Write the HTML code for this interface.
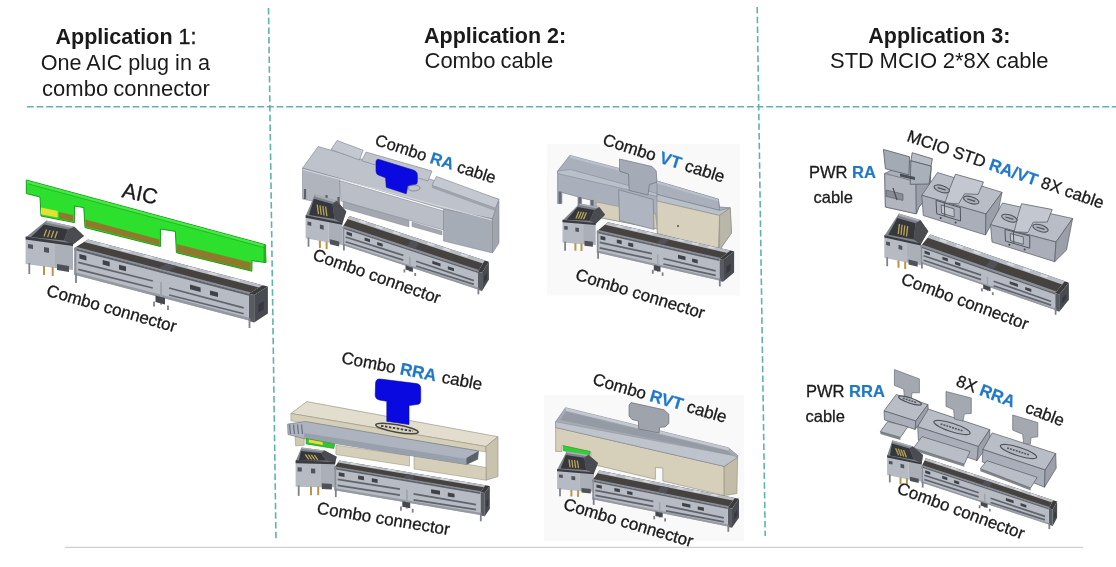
<!DOCTYPE html>
<html><head><meta charset="utf-8"><style>
html,body{margin:0;padding:0;background:#fff;}
body{width:1116px;height:567px;overflow:hidden;position:relative;}
svg{position:absolute;left:0;top:0;filter:blur(0.4px);}
text{font-family:"Liberation Sans",sans-serif;}
</style></head><body>
<svg width="1116" height="567" viewBox="0 0 1116 567">
<line x1="268.5" y1="8.0" x2="276.0" y2="541.0" stroke="#5fb3aa" stroke-width="1.6" stroke-dasharray="6.5 3.2"/>
<line x1="757.2" y1="7.0" x2="765.2" y2="536.0" stroke="#5fb3aa" stroke-width="1.6" stroke-dasharray="6.5 3.2"/>
<line x1="27.0" y1="106.7" x2="1116.0" y2="106.7" stroke="#5fb3aa" stroke-width="1.6" stroke-dasharray="6.8 2.8"/>
<line x1="65.0" y1="547.3" x2="1083.0" y2="547.3" stroke="#cfcfcf" stroke-width="1.3" />
<text x="126" y="43.6" font-size="21.5" font-weight="normal" text-anchor="middle" fill="#1a1a1a" ><tspan font-weight="bold">Application </tspan><tspan stroke="#1a1a1a" stroke-width="0.35">1:</tspan></text>
<text x="125.3" y="69.5" font-size="21.6" font-weight="normal" text-anchor="middle" fill="#1a1a1a" >One AIC plug in a</text>
<text x="126" y="95.6" font-size="22" font-weight="normal" text-anchor="middle" fill="#1a1a1a" word-spacing="-1">combo connector</text>
<text x="424" y="42.5" font-size="21.5" font-weight="bold" text-anchor="start" fill="#1a1a1a" >Application 2:</text>
<text x="424.5" y="67.5" font-size="22" font-weight="normal" text-anchor="start" fill="#1a1a1a" word-spacing="-1">Combo cable</text>
<text x="939.3" y="43" font-size="21.5" font-weight="bold" text-anchor="middle" fill="#1a1a1a" >Application 3:</text>
<text x="939.3" y="67.7" font-size="22" font-weight="normal" text-anchor="middle" fill="#1a1a1a" word-spacing="-0.5">STD MCIO 2*8X cable</text>
<g><polygon points="25.6,237.5 46.5,220.6 74.3,226.8 84.0,236.0 73.0,244.5" fill="#7e838b" />
<polygon points="31.0,237.0 44.0,224.5 68.0,229.5 64.0,240.5" fill="#36373c" />
<polygon points="46.5,220.6 74.3,226.8 74.3,228.6 46.5,222.4" fill="#a9aeb6" />
<polygon points="64.0,240.5 68.0,229.5 74.3,226.8 84.0,236.0 73.0,244.5" fill="#4a4c52" />
<line x1="44.0" y1="236.5" x2="46.5" y2="229.5" stroke="#b9a655" stroke-width="1.3" />
<line x1="47.6" y1="237.1" x2="50.1" y2="230.1" stroke="#b9a655" stroke-width="1.3" />
<line x1="51.2" y1="237.7" x2="53.7" y2="230.7" stroke="#b9a655" stroke-width="1.3" />
<line x1="54.8" y1="238.3" x2="57.3" y2="231.3" stroke="#b9a655" stroke-width="1.3" />
<polygon points="25.6,238.0 55.0,242.0 55.0,268.0 25.6,264.0" fill="#b5bac3" />
<polygon points="55.0,242.0 73.0,244.5 73.0,270.0 55.0,268.0" fill="#aaafb8" />
<polygon points="25.6,236.5 73.0,243.5 73.0,246.0 25.6,239.5" fill="#3a3c41" />
<polygon points="57.0,264.0 69.0,266.0 69.0,272.0 57.0,270.0" fill="#4e5157" />
<polygon points="44.0,247.0 49.0,248.0 49.0,253.0 44.0,252.0" fill="#50535a" />
<polygon points="28.0,244.0 33.0,244.7 33.0,249.0 28.0,248.3" fill="#50535a" />
<line x1="29.3" y1="263.0" x2="29.3" y2="274.0" stroke="#7d828a" stroke-width="1.8" />
<line x1="44.0" y1="266.0" x2="44.0" y2="275.0" stroke="#b8954a" stroke-width="2.0" />
<line x1="52.7" y1="267.0" x2="52.7" y2="276.0" stroke="#b8954a" stroke-width="2.0" />
<polygon points="74.3,248.0 249.0,293.7 262.7,285.2 88.0,239.5" fill="#45423f" />
<polygon points="84.2,241.9 258.9,287.6 262.7,285.2 88.0,239.5" fill="#b9bdc5" />
<polygon points="74.3,248.0 249.0,293.7 250.9,292.5 76.2,246.8" fill="#8c9099" />
<polygon points="99.2,244.9 108.0,247.1 110.0,245.9 101.3,243.6" fill="#d8dbe0" />
<polygon points="120.2,250.3 128.9,252.6 131.0,251.4 122.3,249.1" fill="#d8dbe0" />
<polygon points="142.9,256.3 151.6,258.6 153.7,257.3 145.0,255.0" fill="#d8dbe0" />
<polygon points="186.6,267.7 195.3,270.0 197.4,268.7 188.6,266.4" fill="#d8dbe0" />
<polygon points="207.5,273.2 216.3,275.5 218.3,274.2 209.6,271.9" fill="#d8dbe0" />
<polygon points="230.3,279.1 239.0,281.4 241.1,280.1 232.3,277.9" fill="#d8dbe0" />
<polygon points="158.3,268.3 168.8,271.0 176.8,266.1 166.3,263.4" fill="#505156" />
<polygon points="249.0,293.7 254.2,295.1 267.9,286.6 262.7,285.2" fill="#3b3a3c" />
<polygon points="249.0,293.7 254.2,295.1 254.2,322.4 249.0,321.0" fill="#585b62" />
<polygon points="254.2,295.1 267.9,286.6 267.9,313.4 254.2,322.4" fill="#474a50" />
<polygon points="258.4,304.6 263.8,301.2 263.8,309.2 258.4,312.6" fill="#36383d" />
<polygon points="74.3,248.0 249.0,293.7 249.0,320.5 74.3,274.8" fill="#b6bbc4" />
<polygon points="74.3,248.0 249.0,293.7 249.0,295.8 74.3,250.1" fill="#5f636b" />
<polygon points="74.3,248.0 76.4,248.5 76.4,275.3 74.3,274.8" fill="#8b9098" />
<polygon points="74.3,272.1 249.0,317.8 249.0,320.5 74.3,274.8" fill="#9499a2" />
<line x1="78.2" y1="262.4" x2="152.8" y2="281.0" stroke="#60656d" stroke-width="1.7" />
<line x1="78.2" y1="269.4" x2="152.8" y2="288.0" stroke="#60656d" stroke-width="1.7" />
<line x1="169.1" y1="288.0" x2="243.7" y2="307.9" stroke="#60656d" stroke-width="1.7" />
<line x1="169.1" y1="295.0" x2="243.7" y2="313.7" stroke="#60656d" stroke-width="1.7" />
<polygon points="79.4,254.0 86.4,255.8 86.4,260.4 79.4,258.6" fill="#3f4248" />
<polygon points="102.7,260.0 109.7,261.8 109.7,266.4 102.7,264.6" fill="#3f4248" />
<polygon points="119.0,264.8 126.0,266.6 126.0,271.2 119.0,269.4" fill="#3f4248" />
<polygon points="190.0,284.6 200.6,287.4 200.6,292.0 190.0,289.2" fill="#3f4248" />
<polygon points="210.0,290.4 218.0,292.5 218.0,297.1 210.0,295.0" fill="#3f4248" />
<polygon points="160.0,282.0 162.0,282.5 162.0,305.0 160.0,304.5" fill="#9ea3ac" />
<polygon points="155.5,295.5 165.0,298.0 165.0,304.5 155.5,302.0" fill="#45484e" />
<line x1="76.0" y1="273.5" x2="76.0" y2="283.0" stroke="#7d828a" stroke-width="1.8" />
<line x1="154.0" y1="301.5" x2="154.0" y2="306.5" stroke="#7d828a" stroke-width="1.8" />
<line x1="168.0" y1="305.5" x2="168.0" y2="310.0" stroke="#7d828a" stroke-width="1.8" />
<line x1="249.5" y1="318.0" x2="249.5" y2="328.0" stroke="#7d828a" stroke-width="1.8" /></g>
<rect x="547" y="144" width="193" height="151.5" fill="#f9f9fa"/>
<rect x="544" y="395" width="200" height="146" fill="#f9f9fa"/>
<polygon points="26.3,180.0 265.4,244.7 266.0,262.6 252.0,260.7 251.9,271.2 176.4,252.7 175.4,231.4 160.4,229.0 160.4,246.5 85.0,227.6 83.8,207.6 74.4,206.0 74.4,222.6 41.0,216.0 40.0,197.0 26.3,193.5" fill="#2ee02e" stroke="#169c16" stroke-width="1.0" stroke-linejoin="round" />
<polygon points="26.8,180.5 265.0,245.0 265.0,247.5 27.0,183.5" fill="#46ea46" />
<line x1="28.0" y1="183.8" x2="264.0" y2="247.6" stroke="#20b520" stroke-width="0.9" />
<polygon points="263.5,245.0 266.0,245.0 266.0,262.3 263.5,262.0" fill="#20b020" />
<polygon points="41.0,207.5 57.6,211.0 57.6,217.5 41.0,214.2" fill="#e6e032" />
<polygon points="59.0,212.0 73.0,215.0 73.0,221.5 59.0,218.5" fill="#8f7a2c" />
<polygon points="85.5,219.5 159.5,239.6 159.5,245.5 85.5,226.5" fill="#8f7a2c" />
<polygon points="176.8,244.0 250.8,262.6 250.6,270.2 176.8,252.0" fill="#8f7a2c" />
<polygon points="302.5,168.2 318.2,146.5 499.0,199.4 496.0,207.0 492.5,218.8 443.5,209.0 339.5,178.5" fill="#bec3cb" stroke="#7a7f88" stroke-width="0.6" stroke-linejoin="round" />
<polygon points="331.0,149.5 337.0,140.5 363.2,150.2 359.4,160.0" fill="#c4c8d0" stroke="#7a7f88" stroke-width="0.6" stroke-linejoin="round" />
<polygon points="361.6,160.7 366.0,152.0 432.0,171.0 428.0,181.0" fill="#c0c4cc" stroke="#7a7f88" stroke-width="0.6" stroke-linejoin="round" />
<polygon points="432.0,185.3 436.4,176.4 499.0,199.4 495.5,208.2" fill="#c4c8d0" stroke="#7a7f88" stroke-width="0.6" stroke-linejoin="round" />
<polygon points="432.0,185.3 495.5,208.2 495.5,211.0 432.0,188.0" fill="#9ea3ac" />
<polygon points="302.5,168.2 339.5,178.5 340.0,207.0 302.5,199.0" fill="#afb4bd" stroke="#7a7f88" stroke-width="0.5" stroke-linejoin="round" />
<polygon points="339.5,180.5 443.5,211.0 443.5,230.0 341.0,201.0" fill="#b9bec7" stroke="#7a7f88" stroke-width="0.5" stroke-linejoin="round" />
<polygon points="443.5,209.0 492.5,218.8 492.5,253.0 443.5,241.0" fill="#a6acb5" stroke="#7a7f88" stroke-width="0.5" stroke-linejoin="round" />
<polygon points="492.5,218.8 499.0,201.0 499.0,243.0 492.5,253.0" fill="#a0a5ae" stroke="#7a7f88" stroke-width="0.5" stroke-linejoin="round" />
<polygon points="343.0,201.5 409.0,220.5 409.0,227.0 343.0,208.0" fill="#a2a7b0" stroke="#7a7f88" stroke-width="0.4" stroke-linejoin="round" />
<polygon points="412.0,222.0 442.0,231.0 442.0,235.0 412.0,226.5" fill="#a2a7b0" stroke="#7a7f88" stroke-width="0.4" stroke-linejoin="round" />
<line x1="303.0" y1="169.5" x2="492.0" y2="220.0" stroke="#d6d9df" stroke-width="1.0" />
<path d="M379,159.5 L413,170 Q417.3,171.3 417.3,175 L417.3,182 Q417.3,184.1 415,184.5 L407.8,185.7 L406.2,193.7 L386.3,187.3 L385.6,177.8 L378.5,175 Q376,174 376,171 L376,162 Q376.2,158.6 379,159.5 Z" fill="#0a0ae0" stroke="#0808a8" stroke-width="0.6"/>
<ellipse cx="414" cy="188" rx="6" ry="3" fill="none" stroke="#7a7f88" stroke-width="0.8"/>
<line x1="305.0" y1="189.0" x2="305.0" y2="199.0" stroke="#5d6169" stroke-width="2.2" />
<line x1="326.5" y1="195.0" x2="326.5" y2="206.0" stroke="#5d6169" stroke-width="2.2" />
<line x1="338.5" y1="197.0" x2="338.5" y2="208.0" stroke="#5d6169" stroke-width="2.2" />
<g><polygon points="305.6,216.0 314.9,194.5 336.5,200.7 346.3,211.4 342.3,223.5" fill="#7e838b" />
<polygon points="309.0,214.9 313.9,198.8 332.5,203.9 334.6,219.0" fill="#36373c" />
<polygon points="314.9,194.5 336.5,200.7 337.0,202.9 315.5,196.7" fill="#a9aeb6" />
<polygon points="334.6,219.0 332.5,203.9 336.5,200.7 346.3,211.4 342.3,223.5" fill="#4a4c52" />
<line x1="318.5" y1="214.2" x2="317.2" y2="204.7" stroke="#b9a655" stroke-width="1.3" />
<line x1="321.3" y1="214.9" x2="320.0" y2="205.3" stroke="#b9a655" stroke-width="1.3" />
<line x1="324.1" y1="215.5" x2="322.8" y2="205.9" stroke="#b9a655" stroke-width="1.3" />
<line x1="326.9" y1="216.1" x2="325.6" y2="206.6" stroke="#b9a655" stroke-width="1.3" />
<polygon points="305.6,216.4 328.4,220.8 328.4,242.6 305.6,238.2" fill="#b5bac3" />
<polygon points="328.4,220.8 342.3,223.5 342.3,244.9 328.4,242.6" fill="#aaafb8" />
<polygon points="305.6,215.2 342.3,222.7 342.3,224.8 305.6,217.7" fill="#3a3c41" />
<polygon points="329.9,239.3 339.2,241.4 339.2,246.4 329.9,244.3" fill="#4e5157" />
<polygon points="319.9,224.6 323.7,225.6 323.7,229.8 319.9,228.8" fill="#50535a" />
<polygon points="307.5,221.5 311.3,222.3 311.3,225.9 307.5,225.1" fill="#50535a" />
<line x1="308.5" y1="237.5" x2="308.5" y2="246.7" stroke="#7d828a" stroke-width="1.8" />
<line x1="319.9" y1="240.5" x2="319.9" y2="248.1" stroke="#b8954a" stroke-width="2.0" />
<line x1="326.6" y1="241.7" x2="326.6" y2="249.2" stroke="#b8954a" stroke-width="2.0" />
<polygon points="342.6,227.1 478.0,271.5 484.8,260.4 349.4,216.0" fill="#45423f" />
<polygon points="347.5,219.1 482.9,263.5 484.8,260.4 349.4,216.0" fill="#b9bdc5" />
<polygon points="342.6,227.1 478.0,271.5 479.0,269.9 343.6,225.5" fill="#8c9099" />
<polygon points="358.9,221.8 365.6,224.0 366.7,222.3 359.9,220.1" fill="#d8dbe0" />
<polygon points="375.1,227.1 381.9,229.3 382.9,227.7 376.1,225.4" fill="#d8dbe0" />
<polygon points="392.7,232.9 399.5,235.1 400.5,233.4 393.7,231.2" fill="#d8dbe0" />
<polygon points="426.6,244.0 433.3,246.2 434.4,244.5 427.6,242.3" fill="#d8dbe0" />
<polygon points="442.8,249.3 449.6,251.5 450.6,249.9 443.8,247.6" fill="#d8dbe0" />
<polygon points="460.4,255.1 467.2,257.3 468.2,255.6 461.4,253.4" fill="#d8dbe0" />
<polygon points="407.2,246.4 415.3,249.1 419.3,242.6 411.1,240.0" fill="#505156" />
<polygon points="478.0,271.5 482.1,272.8 488.9,261.7 484.8,260.4" fill="#3b3a3c" />
<polygon points="478.0,271.5 482.1,272.8 482.1,291.1 478.0,289.8" fill="#585b62" />
<polygon points="482.1,272.8 488.9,261.7 488.9,279.6 482.1,291.1" fill="#474a50" />
<polygon points="484.1,277.6 486.8,273.1 486.8,278.5 484.1,282.9" fill="#36383d" />
<polygon points="342.6,227.1 478.0,271.5 478.0,289.4 342.6,245.0" fill="#b6bbc4" />
<polygon points="342.6,227.1 478.0,271.5 478.0,272.9 342.6,228.5" fill="#5f636b" />
<polygon points="342.6,227.1 344.2,227.6 344.2,245.5 342.6,245.0" fill="#8b9098" />
<polygon points="342.6,243.2 478.0,287.6 478.0,289.4 342.6,245.0" fill="#9499a2" />
<line x1="345.6" y1="237.0" x2="403.4" y2="255.4" stroke="#60656d" stroke-width="1.7" />
<line x1="345.6" y1="241.7" x2="403.4" y2="260.1" stroke="#60656d" stroke-width="1.7" />
<line x1="416.1" y1="261.3" x2="473.9" y2="280.6" stroke="#60656d" stroke-width="1.7" />
<line x1="416.1" y1="266.0" x2="473.9" y2="284.4" stroke="#60656d" stroke-width="1.7" />
<polygon points="346.6,231.5 352.0,233.3 352.0,236.4 346.6,234.6" fill="#3f4248" />
<polygon points="364.6,237.4 370.0,239.2 370.0,242.2 364.6,240.4" fill="#3f4248" />
<polygon points="377.2,241.9 382.7,243.7 382.7,246.7 377.2,244.9" fill="#3f4248" />
<polygon points="432.3,260.7 440.5,263.4 440.5,266.5 432.3,263.8" fill="#3f4248" />
<polygon points="447.8,266.2 454.0,268.2 454.0,271.3 447.8,269.3" fill="#3f4248" />
<polygon points="409.0,256.6 410.6,257.1 410.6,272.1 409.0,271.6" fill="#9ea3ac" />
<polygon points="405.5,265.3 412.9,267.7 412.9,272.0 405.5,269.6" fill="#45484e" />
<line x1="343.9" y1="244.3" x2="343.9" y2="250.6" stroke="#7d828a" stroke-width="1.8" />
<line x1="404.4" y1="269.2" x2="404.4" y2="272.5" stroke="#7d828a" stroke-width="1.8" />
<line x1="415.2" y1="272.9" x2="415.2" y2="276.0" stroke="#7d828a" stroke-width="1.8" />
<line x1="478.4" y1="287.8" x2="478.4" y2="294.4" stroke="#7d828a" stroke-width="1.8" /></g>
<polygon points="557.6,171.0 569.9,155.4 619.5,168.5 619.5,171.0 628.5,174.0 647.0,183.5 657.0,181.1 718.3,199.2 719.6,207.0 730.2,207.8 731.5,232.9 719.6,250.0 657.4,233.4 657.2,228.7 596.9,217.0 594.0,212.2 590.3,211.0 590.3,199.9 581.6,198.0 581.6,209.5 578.0,208.8 578.0,196.8 561.9,192.5 561.9,203.6 557.6,203.6" fill="#a9b0bc" stroke="#6f7682" stroke-width="0.6" stroke-linejoin="round" />
<polygon points="569.9,155.4 619.5,168.5 619.5,171.0 570.3,158.0" fill="#bac0ca" />
<polygon points="557.6,171.0 570.5,169.5 619.5,183.0 657.0,193.5 657.0,196.5 557.6,173.5" fill="#bac0ca" stroke="#6f7682" stroke-width="0.4" stroke-linejoin="round" />
<polygon points="596.0,202.0 655.5,213.7 657.2,228.7 596.9,217.0" fill="#d5cfbb" stroke="#8d8a7c" stroke-width="0.5" stroke-linejoin="round" />
<polygon points="618.7,189.7 653.2,199.4 654.0,229.5 619.5,220.5" fill="#aeb5c1" stroke="#6f7682" stroke-width="0.6" stroke-linejoin="round" />
<polygon points="619.5,159.0 652.0,166.5 656.2,171.0 657.0,182.2 649.4,184.5 648.0,195.0 629.2,190.4 628.5,174.0 619.5,171.0" fill="#a4abb7" stroke="#6f7682" stroke-width="0.7" stroke-linejoin="round" />
<polygon points="657.0,181.1 718.3,199.2 719.6,210.4 657.0,194.5" fill="#a9b0bc" stroke="#6f7682" stroke-width="0.5" stroke-linejoin="round" />
<polygon points="657.0,181.1 718.3,199.2 718.5,201.5 657.0,183.5" fill="#bac0ca" />
<polygon points="657.0,194.5 719.6,210.4 730.2,207.8 719.6,215.5 657.0,201.0" fill="#bac0ca" stroke="#6f7682" stroke-width="0.5" stroke-linejoin="round" />
<polygon points="657.0,201.0 719.6,215.5 718.3,250.0 657.4,233.4" fill="#d6d0bc" stroke="#8d8a7c" stroke-width="0.5" stroke-linejoin="round" />
<polygon points="719.6,215.5 730.2,207.8 731.5,232.9 719.6,250.0" fill="#b9b6aa" stroke="#8d8a7c" stroke-width="0.5" stroke-linejoin="round" />
<circle cx="678" cy="226" r="1" fill="#555"/>
<line x1="579.8" y1="197.0" x2="579.8" y2="209.5" stroke="#636a75" stroke-width="2.8" />
<line x1="592.2" y1="199.9" x2="592.2" y2="212.2" stroke="#636a75" stroke-width="2.8" />
<line x1="560.0" y1="191.5" x2="560.0" y2="203.6" stroke="#636a75" stroke-width="2.8" />
<g><polygon points="562.5,220.6 579.7,203.5 599.2,207.0 605.1,214.8 595.7,223.7" fill="#7e838b" />
<polygon points="566.6,219.7 577.6,207.1 594.4,209.9 589.7,220.7" fill="#36373c" />
<polygon points="579.7,203.5 599.2,207.0 598.9,208.7 579.5,205.1" fill="#a9aeb6" />
<polygon points="589.7,220.7 594.4,209.9 599.2,207.0 605.1,214.8 595.7,223.7" fill="#4a4c52" />
<line x1="575.9" y1="218.4" x2="578.8" y2="211.5" stroke="#b9a655" stroke-width="1.3" />
<line x1="578.4" y1="218.7" x2="581.4" y2="211.8" stroke="#b9a655" stroke-width="1.3" />
<line x1="580.9" y1="218.9" x2="583.9" y2="212.1" stroke="#b9a655" stroke-width="1.3" />
<line x1="583.5" y1="219.2" x2="586.4" y2="212.4" stroke="#b9a655" stroke-width="1.3" />
<polygon points="562.5,221.0 583.1,222.7 583.1,244.3 562.5,242.6" fill="#b5bac3" />
<polygon points="583.1,222.7 595.7,223.7 595.7,244.9 583.1,244.3" fill="#aaafb8" />
<polygon points="562.5,219.8 595.7,222.9 595.7,225.0 562.5,222.3" fill="#3a3c41" />
<polygon points="584.5,240.8 592.9,241.8 592.9,246.8 584.5,245.8" fill="#4e5157" />
<polygon points="575.4,227.5 578.9,228.0 578.9,232.1 575.4,231.6" fill="#50535a" />
<polygon points="564.2,225.9 567.7,226.2 567.7,229.7 564.2,229.4" fill="#50535a" />
<line x1="565.1" y1="241.6" x2="565.1" y2="250.7" stroke="#7d828a" stroke-width="1.8" />
<line x1="575.4" y1="243.2" x2="575.4" y2="250.7" stroke="#b8954a" stroke-width="2.0" />
<line x1="581.5" y1="243.6" x2="581.5" y2="251.0" stroke="#b8954a" stroke-width="2.0" />
<polygon points="596.9,231.2 719.4,259.3 730.4,250.4 607.9,222.3" fill="#45423f" />
<polygon points="604.8,224.8 727.3,252.9 730.4,250.4 607.9,222.3" fill="#b9bdc5" />
<polygon points="596.9,231.2 719.4,259.3 720.9,258.1 598.4,230.0" fill="#8c9099" />
<polygon points="615.5,226.3 621.6,227.7 623.3,226.4 617.1,225.0" fill="#d8dbe0" />
<polygon points="630.2,229.7 636.3,231.1 638.0,229.8 631.9,228.4" fill="#d8dbe0" />
<polygon points="646.1,233.4 652.2,234.8 653.9,233.4 647.8,232.0" fill="#d8dbe0" />
<polygon points="676.7,240.4 682.9,241.8 684.5,240.4 678.4,239.0" fill="#d8dbe0" />
<polygon points="691.4,243.8 697.6,245.2 699.2,243.8 693.1,242.4" fill="#d8dbe0" />
<polygon points="707.4,247.4 713.5,248.8 715.1,247.5 709.0,246.1" fill="#d8dbe0" />
<polygon points="656.0,243.2 663.4,244.8 669.7,239.7 662.4,238.0" fill="#505156" />
<polygon points="719.4,259.3 723.1,260.1 734.1,251.2 730.4,250.4" fill="#3b3a3c" />
<polygon points="719.4,259.3 723.1,260.1 723.1,281.8 719.4,280.9" fill="#585b62" />
<polygon points="723.1,260.1 734.1,251.2 734.1,272.4 723.1,281.8" fill="#474a50" />
<polygon points="726.4,267.0 730.8,263.5 730.8,269.8 726.4,273.4" fill="#36383d" />
<polygon points="596.9,231.2 719.4,259.3 719.4,280.5 596.9,252.4" fill="#b6bbc4" />
<polygon points="596.9,231.2 719.4,259.3 719.4,261.0 596.9,232.9" fill="#5f636b" />
<polygon points="596.9,231.2 598.4,231.5 598.4,252.7 596.9,252.4" fill="#8b9098" />
<polygon points="596.9,250.3 719.4,278.4 719.4,280.5 596.9,252.4" fill="#9499a2" />
<line x1="599.6" y1="242.4" x2="651.9" y2="253.7" stroke="#60656d" stroke-width="1.7" />
<line x1="599.6" y1="247.9" x2="651.9" y2="259.2" stroke="#60656d" stroke-width="1.7" />
<line x1="663.4" y1="258.5" x2="715.7" y2="270.8" stroke="#60656d" stroke-width="1.7" />
<line x1="663.4" y1="264.0" x2="715.7" y2="275.4" stroke="#60656d" stroke-width="1.7" />
<polygon points="600.5,235.7 605.4,236.9 605.4,240.5 600.5,239.4" fill="#3f4248" />
<polygon points="616.8,239.4 621.7,240.5 621.7,244.2 616.8,243.0" fill="#3f4248" />
<polygon points="628.2,242.4 633.2,243.6 633.2,247.2 628.2,246.1" fill="#3f4248" />
<polygon points="678.0,254.8 685.5,256.5 685.5,260.2 678.0,258.5" fill="#3f4248" />
<polygon points="692.1,258.5 697.7,259.8 697.7,263.4 692.1,262.1" fill="#3f4248" />
<polygon points="657.0,254.1 658.4,254.4 658.4,272.2 657.0,271.9" fill="#9ea3ac" />
<polygon points="653.8,265.0 660.5,266.6 660.5,271.7 653.8,270.2" fill="#45484e" />
<line x1="598.1" y1="251.3" x2="598.1" y2="258.8" stroke="#7d828a" stroke-width="1.8" />
<line x1="652.8" y1="269.8" x2="652.8" y2="273.8" stroke="#7d828a" stroke-width="1.8" />
<line x1="662.6" y1="272.4" x2="662.6" y2="275.9" stroke="#7d828a" stroke-width="1.8" />
<line x1="719.8" y1="278.5" x2="719.8" y2="286.4" stroke="#7d828a" stroke-width="1.8" /></g>
<polygon points="290.9,413.5 306.8,401.6 498.0,436.7 486.0,446.5" fill="#e2ddcc" stroke="#8f8b7d" stroke-width="0.6" stroke-linejoin="round" />
<polygon points="290.9,413.5 486.0,446.5 486.0,452.0 290.9,420.8" fill="#d5cfba" stroke="#8f8b7d" stroke-width="0.5" stroke-linejoin="round" />
<polygon points="486.0,446.5 498.0,436.7 498.0,476.5 486.0,480.2" fill="#c9c3ae" stroke="#8f8b7d" stroke-width="0.6" stroke-linejoin="round" />
<polygon points="335.9,445.2 409.5,455.5 409.5,466.0 335.9,454.5" fill="#d5cfba" stroke="#8f8b7d" stroke-width="0.5" stroke-linejoin="round" />
<polygon points="414.0,455.0 486.0,467.5 486.0,480.2 414.0,469.0" fill="#d5cfba" stroke="#8f8b7d" stroke-width="0.5" stroke-linejoin="round" />
<polygon points="294.9,433.3 304.2,436.0 304.2,445.2 295.6,445.9" fill="#cfc9b4" stroke="#8f8b7d" stroke-width="0.5" stroke-linejoin="round" />
<polygon points="287.6,424.1 305.5,421.5 478.5,451.0 477.7,459.2 466.5,464.5 304.2,438.6 288.0,434.5" fill="#adb4c0" stroke="#6c717a" stroke-width="0.6" stroke-linejoin="round" />
<polygon points="304.2,433.0 470.0,459.5 466.5,464.5 304.2,438.6" fill="#98a0ac" />
<polygon points="466.5,458.0 478.5,451.0 477.7,459.2 466.5,464.5" fill="#5c6068" />
<line x1="289.5" y1="424.5" x2="290.5" y2="434.0" stroke="#6a6f78" stroke-width="1.2" />
<line x1="293.5" y1="424.5" x2="294.5" y2="434.0" stroke="#6a6f78" stroke-width="1.2" />
<line x1="297.5" y1="424.5" x2="298.5" y2="434.0" stroke="#6a6f78" stroke-width="1.2" />
<line x1="301.5" y1="424.5" x2="302.5" y2="434.0" stroke="#6a6f78" stroke-width="1.2" />
<polygon points="306.1,438.6 334.6,443.9 333.9,448.5 306.1,443.9" fill="#33c633" stroke="#1c8f1c" stroke-width="0.6" stroke-linejoin="round" />
<polygon points="308.8,439.5 322.7,442.0 322.7,445.0 308.8,442.6" fill="#e6e032" />
<ellipse cx="397" cy="428.5" rx="21.5" ry="3.8" transform="rotate(10 397 428.5)" fill="#d9d4c1" stroke="#4a4840" stroke-width="1.6"/>
<line x1="381" y1="425.8" x2="413" y2="431.2" stroke="#3f3d38" stroke-width="1.8" stroke-dasharray="2.5 1.5"/>
<path d="M380,379 L416.5,383.6 Q420.7,384.3 420.7,388.5 L420.7,400.4 Q420.7,404.4 416.5,404.6 L409,405.5 L409,424.5 L386.8,421.3 L386.8,401.3 L379.5,400 Q375.2,399.1 375.2,395 L375.6,383 Q376,378.6 380,379 Z" fill="#0a0ae0" stroke="#0808a8" stroke-width="0.6"/>
<g><polygon points="295.6,461.3 301.5,447.6 324.7,450.5 336.7,456.7 335.2,462.8" fill="#7e838b" />
<polygon points="298.8,460.8 301.0,450.9 321.0,453.1 326.4,460.5" fill="#36373c" />
<polygon points="301.5,447.6 324.7,450.5 325.7,451.8 302.4,448.9" fill="#a9aeb6" />
<polygon points="326.4,460.5 321.0,453.1 324.7,450.5 336.7,456.7 335.2,462.8" fill="#4a4c52" />
<line x1="308.7" y1="459.3" x2="305.3" y2="454.5" stroke="#b9a655" stroke-width="1.3" />
<line x1="311.7" y1="459.4" x2="308.3" y2="454.7" stroke="#b9a655" stroke-width="1.3" />
<line x1="314.7" y1="459.6" x2="311.3" y2="454.9" stroke="#b9a655" stroke-width="1.3" />
<line x1="317.7" y1="459.8" x2="314.4" y2="455.1" stroke="#b9a655" stroke-width="1.3" />
<polygon points="295.6,461.8 320.2,462.4 320.2,487.3 295.6,486.7" fill="#b5bac3" />
<polygon points="320.2,462.4 335.2,462.8 335.2,487.3 320.2,487.3" fill="#aaafb8" />
<polygon points="295.6,460.3 335.2,461.9 335.2,464.3 295.6,463.2" fill="#3a3c41" />
<polygon points="321.8,483.3 331.9,483.9 331.9,489.6 321.8,489.0" fill="#4e5157" />
<polygon points="311.0,468.4 315.2,468.8 315.2,473.6 311.0,473.2" fill="#50535a" />
<polygon points="297.6,467.3 301.8,467.4 301.8,471.5 297.6,471.4" fill="#50535a" />
<line x1="298.7" y1="485.3" x2="298.7" y2="495.9" stroke="#7d828a" stroke-width="1.8" />
<line x1="311.0" y1="486.6" x2="311.0" y2="495.2" stroke="#b8954a" stroke-width="2.0" />
<line x1="318.2" y1="486.6" x2="318.2" y2="495.2" stroke="#b8954a" stroke-width="2.0" />
<polygon points="334.4,467.5 480.4,492.2 485.4,485.2 339.4,460.5" fill="#45423f" />
<polygon points="338.0,462.5 484.0,487.2 485.4,485.2 339.4,460.5" fill="#b9bdc5" />
<polygon points="334.4,467.5 480.4,492.2 481.1,491.2 335.1,466.5" fill="#8c9099" />
<polygon points="350.1,463.9 357.4,465.1 358.1,464.1 350.8,462.8" fill="#d8dbe0" />
<polygon points="367.6,466.8 374.9,468.1 375.6,467.0 368.3,465.8" fill="#d8dbe0" />
<polygon points="386.6,470.1 393.9,471.3 394.6,470.2 387.3,469.0" fill="#d8dbe0" />
<polygon points="423.1,476.2 430.4,477.5 431.1,476.4 423.8,475.2" fill="#d8dbe0" />
<polygon points="440.6,479.2 447.9,480.4 448.6,479.4 441.3,478.1" fill="#d8dbe0" />
<polygon points="459.6,482.4 466.9,483.6 467.6,482.6 460.3,481.4" fill="#d8dbe0" />
<polygon points="403.7,478.1 412.5,479.6 415.4,475.6 406.6,474.1" fill="#505156" />
<polygon points="480.4,492.2 484.8,492.9 489.8,485.9 485.4,485.2" fill="#3b3a3c" />
<polygon points="480.4,492.2 484.8,492.9 484.8,516.2 480.4,515.5" fill="#585b62" />
<polygon points="484.8,492.9 489.8,485.9 489.8,508.7 484.8,516.2" fill="#474a50" />
<polygon points="486.3,501.1 488.3,498.3 488.3,505.1 486.3,507.9" fill="#36383d" />
<polygon points="334.4,467.5 480.4,492.2 480.4,515.0 334.4,490.3" fill="#b6bbc4" />
<polygon points="334.4,467.5 480.4,492.2 480.4,494.0 334.4,469.3" fill="#5f636b" />
<polygon points="334.4,467.5 336.2,467.8 336.2,490.6 334.4,490.3" fill="#8b9098" />
<polygon points="334.4,488.0 480.4,512.7 480.4,515.0 334.4,490.3" fill="#9499a2" />
<line x1="337.7" y1="479.4" x2="400.0" y2="489.2" stroke="#60656d" stroke-width="1.7" />
<line x1="337.7" y1="485.4" x2="400.0" y2="495.2" stroke="#60656d" stroke-width="1.7" />
<line x1="413.6" y1="493.8" x2="476.0" y2="504.7" stroke="#60656d" stroke-width="1.7" />
<line x1="413.6" y1="499.8" x2="476.0" y2="509.6" stroke="#60656d" stroke-width="1.7" />
<polygon points="338.7,472.2 344.5,473.2 344.5,477.1 338.7,476.1" fill="#3f4248" />
<polygon points="358.1,475.4 364.0,476.4 364.0,480.3 358.1,479.3" fill="#3f4248" />
<polygon points="371.8,478.2 377.6,479.2 377.6,483.1 371.8,482.1" fill="#3f4248" />
<polygon points="431.1,489.2 440.0,490.8 440.0,494.7 431.1,493.2" fill="#3f4248" />
<polygon points="447.8,492.6 454.5,493.7 454.5,497.6 447.8,496.5" fill="#3f4248" />
<polygon points="406.0,489.5 407.7,489.7 407.7,508.9 406.0,508.6" fill="#9ea3ac" />
<polygon points="402.3,501.3 410.2,502.7 410.2,508.2 402.3,506.8" fill="#45484e" />
<line x1="335.8" y1="489.1" x2="335.8" y2="497.1" stroke="#7d828a" stroke-width="1.8" />
<line x1="401.0" y1="506.5" x2="401.0" y2="510.8" stroke="#7d828a" stroke-width="1.8" />
<line x1="412.7" y1="508.8" x2="412.7" y2="512.6" stroke="#7d828a" stroke-width="1.8" />
<line x1="480.8" y1="512.8" x2="480.8" y2="521.3" stroke="#7d828a" stroke-width="1.8" /></g>
<polygon points="555.6,427.4 724.2,466.3 724.2,495.6 662.8,481.0 662.8,468.0 655.4,467.5 655.4,479.3 590.8,463.9 590.8,452.0 562.0,445.5 562.0,451.4 555.6,451.4" fill="#d6d0bb" stroke="#8d8a7c" stroke-width="0.6" stroke-linejoin="round" />
<polygon points="724.2,466.3 737.6,457.2 736.9,493.5 724.2,495.6" fill="#c3bda8" stroke="#8d8a7c" stroke-width="0.6" stroke-linejoin="round" />
<polygon points="555.6,421.8 565.5,407.7 728.2,447.7 737.6,455.3 737.6,457.2 724.2,466.3 555.6,427.4" fill="#a6acb6" stroke="#737882" stroke-width="0.6" stroke-linejoin="round" />
<polygon points="565.5,407.7 728.2,447.7 729.0,450.5 566.0,410.7" fill="#c4c9d1" />
<polygon points="560.0,420.0 566.0,411.5 728.0,451.0 733.0,455.5" fill="#959ba5" />
<polygon points="555.6,421.8 733.0,455.5 737.6,457.2 724.2,466.3 555.6,427.4" fill="#bfc4cc" stroke="#7d828b" stroke-width="0.4" stroke-linejoin="round" />
<polygon points="563.4,445.8 590.2,451.4 589.5,456.4 563.4,450.7" fill="#2fd02f" stroke="#1c8f1c" stroke-width="0.5" stroke-linejoin="round" />
<polygon points="631.0,402.6 664.0,409.8 668.8,414.2 668.8,423.5 665.0,426.9 659.6,427.3 659.1,433.0 638.8,429.0 638.3,421.0 632.0,419.5 629.1,416.0 629.1,405.0" fill="#9ea3ac" stroke="#6f747c" stroke-width="0.8" stroke-linejoin="round" />
<g><polygon points="557.1,469.7 566.8,451.2 588.3,454.8 598.0,463.0 593.9,473.2" fill="#7e838b" />
<polygon points="560.6,468.5 565.8,454.9 584.4,457.7 586.2,469.9" fill="#36373c" />
<polygon points="566.8,451.2 588.3,454.8 588.9,456.5 567.3,453.0" fill="#a9aeb6" />
<polygon points="586.2,469.9 584.4,457.7 588.3,454.8 598.0,463.0 593.9,473.2" fill="#4a4c52" />
<line x1="570.1" y1="467.3" x2="569.0" y2="459.5" stroke="#b9a655" stroke-width="1.3" />
<line x1="572.9" y1="467.6" x2="571.8" y2="459.8" stroke="#b9a655" stroke-width="1.3" />
<line x1="575.7" y1="467.9" x2="574.5" y2="460.1" stroke="#b9a655" stroke-width="1.3" />
<line x1="578.5" y1="468.2" x2="577.3" y2="460.5" stroke="#b9a655" stroke-width="1.3" />
<polygon points="557.1,470.1 579.9,472.0 579.9,491.0 557.1,489.1" fill="#b5bac3" />
<polygon points="579.9,472.0 593.9,473.2 593.9,491.8 579.9,491.0" fill="#aaafb8" />
<polygon points="557.1,469.0 593.9,472.4 593.9,474.3 557.1,471.2" fill="#3a3c41" />
<polygon points="581.5,488.0 590.8,489.0 590.8,493.4 581.5,492.4" fill="#4e5157" />
<polygon points="571.4,476.0 575.2,476.6 575.2,480.2 571.4,479.7" fill="#50535a" />
<polygon points="559.0,474.4 562.8,474.7 562.8,477.9 559.0,477.5" fill="#50535a" />
<line x1="560.0" y1="488.2" x2="560.0" y2="496.3" stroke="#7d828a" stroke-width="1.8" />
<line x1="571.4" y1="489.9" x2="571.4" y2="496.5" stroke="#b8954a" stroke-width="2.0" />
<line x1="578.1" y1="490.3" x2="578.1" y2="496.9" stroke="#b8954a" stroke-width="2.0" />
<polygon points="592.4,480.3 727.9,507.6 734.9,497.9 599.4,470.6" fill="#45423f" />
<polygon points="597.4,473.3 732.9,500.6 734.9,497.9 599.4,470.6" fill="#b9bdc5" />
<polygon points="592.4,480.3 727.9,507.6 728.9,506.2 593.4,478.9" fill="#8c9099" />
<polygon points="608.8,474.7 615.6,476.1 616.7,474.6 609.9,473.3" fill="#d8dbe0" />
<polygon points="625.1,478.0 631.9,479.4 632.9,477.9 626.1,476.5" fill="#d8dbe0" />
<polygon points="642.7,481.5 649.5,482.9 650.5,481.5 643.8,480.1" fill="#d8dbe0" />
<polygon points="676.6,488.4 683.4,489.7 684.4,488.3 677.6,486.9" fill="#d8dbe0" />
<polygon points="692.9,491.7 699.6,493.0 700.7,491.6 693.9,490.2" fill="#d8dbe0" />
<polygon points="710.5,495.2 717.2,496.6 718.3,495.1 711.5,493.7" fill="#d8dbe0" />
<polygon points="657.1,491.8 665.2,493.4 669.3,487.8 661.1,486.1" fill="#505156" />
<polygon points="727.9,507.6 732.0,508.4 739.0,498.7 734.9,497.9" fill="#3b3a3c" />
<polygon points="727.9,507.6 732.0,508.4 732.0,527.7 727.9,526.9" fill="#585b62" />
<polygon points="732.0,508.4 739.0,498.7 739.0,517.6 732.0,527.7" fill="#474a50" />
<polygon points="734.1,514.0 736.9,510.1 736.9,515.8 734.1,519.7" fill="#36383d" />
<polygon points="592.4,480.3 727.9,507.6 727.9,526.5 592.4,499.2" fill="#b6bbc4" />
<polygon points="592.4,480.3 727.9,507.6 727.9,509.1 592.4,481.8" fill="#5f636b" />
<polygon points="592.4,480.3 594.0,480.6 594.0,499.5 592.4,499.2" fill="#8b9098" />
<polygon points="592.4,497.3 727.9,524.6 727.9,526.5 592.4,499.2" fill="#9499a2" />
<line x1="595.4" y1="490.3" x2="653.3" y2="501.4" stroke="#60656d" stroke-width="1.7" />
<line x1="595.4" y1="495.3" x2="653.3" y2="506.3" stroke="#60656d" stroke-width="1.7" />
<line x1="665.9" y1="505.8" x2="723.8" y2="517.8" stroke="#60656d" stroke-width="1.7" />
<line x1="665.9" y1="510.8" x2="723.8" y2="521.9" stroke="#60656d" stroke-width="1.7" />
<polygon points="596.4,484.4 601.8,485.5 601.8,488.7 596.4,487.6" fill="#3f4248" />
<polygon points="614.4,488.0 619.9,489.1 619.9,492.3 614.4,491.2" fill="#3f4248" />
<polygon points="627.1,490.9 632.5,492.0 632.5,495.2 627.1,494.1" fill="#3f4248" />
<polygon points="682.1,502.8 690.4,504.5 690.4,507.8 682.1,506.1" fill="#3f4248" />
<polygon points="697.7,506.4 703.9,507.6 703.9,510.9 697.7,509.6" fill="#3f4248" />
<polygon points="658.9,501.9 660.4,502.2 660.4,518.0 658.9,517.7" fill="#9ea3ac" />
<polygon points="655.4,511.5 662.7,513.0 662.7,517.6 655.4,516.1" fill="#45484e" />
<line x1="593.7" y1="498.2" x2="593.7" y2="504.9" stroke="#7d828a" stroke-width="1.8" />
<line x1="654.2" y1="515.8" x2="654.2" y2="519.3" stroke="#7d828a" stroke-width="1.8" />
<line x1="665.1" y1="518.2" x2="665.1" y2="521.4" stroke="#7d828a" stroke-width="1.8" />
<line x1="728.3" y1="524.7" x2="728.3" y2="531.8" stroke="#7d828a" stroke-width="1.8" /></g>
<polygon points="884.7,173.5 910.9,160.8 931.0,166.1 929.7,193.7 919.0,207.0 916.3,213.8 885.4,207.0" fill="#a9aeb8" stroke="#565b64" stroke-width="0.7" stroke-linejoin="round" />
<polygon points="884.7,173.5 908.0,179.5 916.0,183.0 916.3,213.8 885.4,207.0" fill="#b0b5be" stroke="#565b64" stroke-width="0.6" stroke-linejoin="round" />
<polygon points="916.0,183.0 931.0,166.1 929.7,193.7 919.0,207.0 916.3,213.8" fill="#9a9fa9" stroke="#565b64" stroke-width="0.6" stroke-linejoin="round" />
<polygon points="912.2,152.7 932.4,158.8 931.0,166.1 910.9,160.8" fill="#b9bec6" stroke="#565b64" stroke-width="0.8" stroke-linejoin="round" />
<polygon points="910.9,160.8 931.0,166.1 931.0,170.0 929.0,184.0 910.2,184.3" fill="#aab0b9" stroke="#565b64" stroke-width="0.8" stroke-linejoin="round" />
<polygon points="883.4,149.4 909.6,156.8 908.9,174.9 885.4,168.8" fill="#a4aab4" stroke="#565b64" stroke-width="0.8" stroke-linejoin="round" />
<polygon points="900.0,173.5 915.0,177.0 915.0,180.0 900.0,176.5" fill="#4a4e55" />
<polygon points="886.0,190.0 903.0,194.0 903.0,200.4 886.0,196.4" fill="#878c95" stroke="#565b64" stroke-width="0.6" stroke-linejoin="round" />
<line x1="893.0" y1="188.0" x2="897.0" y2="200.0" stroke="#4a4e55" stroke-width="1.2" />
<polygon points="921.8,195.3 937.5,172.5 1002.0,192.3 986.0,214.0" fill="#b9bec6" stroke="#565b64" stroke-width="0.7" stroke-linejoin="round" />
<polygon points="921.8,195.3 986.0,214.0 985.5,235.0 923.3,215.5" fill="#a9aeb8" stroke="#565b64" stroke-width="0.7" stroke-linejoin="round" />
<polygon points="986.0,214.0 1002.0,192.3 998.3,211.0 985.5,235.0" fill="#9a9fa9" stroke="#565b64" stroke-width="0.7" stroke-linejoin="round" />
<polygon points="955.5,174.2 983.5,182.1 978.1,194.4 964.5,193.8 958.6,203.9 945.0,202.9 950.1,187.6" fill="#c3c7cf" stroke="#5a5f68" stroke-width="0.8" stroke-linejoin="round" />
<ellipse cx="941.7" cy="188.9" rx="8" ry="3.3" transform="rotate(18 941.7 188.9)" fill="#aab0b9" stroke="#50555e" stroke-width="1.1"/>
<line x1="937.7" y1="187.7" x2="945.7" y2="190.1" stroke="#50555e" stroke-width="1.3"/>
<ellipse cx="971.2" cy="200.1" rx="8" ry="3.3" transform="rotate(18 971.2 200.1)" fill="#aab0b9" stroke="#50555e" stroke-width="1.1"/>
<line x1="967.2" y1="198.9" x2="975.2" y2="201.3" stroke="#50555e" stroke-width="1.3"/>
<polygon points="936.0,200.4 960.3,207.6 960.5,221.0 936.7,213.7" fill="none" stroke="#50555e" stroke-width="1.0" stroke-linejoin="round" />
<polygon points="941.2,205.0 954.0,208.8 954.2,217.0 941.6,213.2" fill="#c0c4cb" stroke="#50555e" stroke-width="0.8" stroke-linejoin="round" />
<line x1="944.3" y1="201.8" x2="944.8" y2="216.2" stroke="#50555e" stroke-width="1.0" />
<circle cx="940.6" cy="217.9" r="1" fill="#444"/>
<circle cx="955.6" cy="222.5" r="1" fill="#444"/>
<polygon points="990.5,224.7 1002.5,203.0 1072.6,218.5 1056.0,242.0" fill="#b9bec6" stroke="#565b64" stroke-width="0.7" stroke-linejoin="round" />
<polygon points="990.5,224.7 1056.0,242.0 1054.7,261.7 992.0,242.0" fill="#a9aeb8" stroke="#565b64" stroke-width="0.7" stroke-linejoin="round" />
<polygon points="1056.0,242.0 1072.6,218.5 1066.5,250.0 1054.7,261.7" fill="#9a9fa9" stroke="#565b64" stroke-width="0.7" stroke-linejoin="round" />
<polygon points="1021.5,203.7 1052.2,209.5 1047.3,222.1 1033.2,222.2 1027.9,232.5 1014.2,231.7 1017.7,216.7" fill="#c3c7cf" stroke="#5a5f68" stroke-width="0.8" stroke-linejoin="round" />
<ellipse cx="1009.4" cy="218.2" rx="8" ry="3.3" transform="rotate(18 1009.4 218.2)" fill="#aab0b9" stroke="#50555e" stroke-width="1.1"/>
<line x1="1005.4" y1="217.0" x2="1013.4" y2="219.4" stroke="#50555e" stroke-width="1.3"/>
<ellipse cx="1040.5" cy="228.2" rx="8" ry="3.3" transform="rotate(18 1040.5 228.2)" fill="#aab0b9" stroke="#50555e" stroke-width="1.1"/>
<line x1="1036.5" y1="227.0" x2="1044.5" y2="229.4" stroke="#50555e" stroke-width="1.3"/>
<polygon points="1005.0,229.4 1029.8,236.0 1029.7,248.2 1005.5,241.0" fill="none" stroke="#50555e" stroke-width="1.0" stroke-linejoin="round" />
<polygon points="1010.3,233.5 1023.3,237.0 1023.3,244.4 1010.5,240.7" fill="#c0c4cb" stroke="#50555e" stroke-width="0.8" stroke-linejoin="round" />
<line x1="1013.4" y1="230.8" x2="1013.8" y2="243.5" stroke="#50555e" stroke-width="1.0" />
<circle cx="1009.4" cy="244.8" r="1" fill="#444"/>
<circle cx="1024.6" cy="249.5" r="1" fill="#444"/>
<g><polygon points="884.3,236.0 898.9,213.4 920.3,220.0 928.3,231.3 920.8,244.3" fill="#7e838b" />
<polygon points="888.3,234.8 897.2,217.9 915.6,223.2 913.7,239.4" fill="#36373c" />
<polygon points="898.9,213.4 920.3,220.0 920.4,222.3 899.0,215.7" fill="#a9aeb6" />
<polygon points="913.7,239.4 915.6,223.2 920.3,220.0 928.3,231.3 920.8,244.3" fill="#4a4c52" />
<line x1="898.2" y1="234.2" x2="899.4" y2="224.0" stroke="#b9a655" stroke-width="1.3" />
<line x1="901.0" y1="234.9" x2="902.1" y2="224.7" stroke="#b9a655" stroke-width="1.3" />
<line x1="903.7" y1="235.6" x2="904.9" y2="225.4" stroke="#b9a655" stroke-width="1.3" />
<line x1="906.5" y1="236.3" x2="907.7" y2="226.1" stroke="#b9a655" stroke-width="1.3" />
<polygon points="884.3,236.4 907.0,241.3 907.0,262.6 884.3,257.8" fill="#b5bac3" />
<polygon points="907.0,241.3 920.8,244.3 920.8,265.2 907.0,262.6" fill="#aaafb8" />
<polygon points="884.3,235.2 920.8,243.4 920.8,245.5 884.3,237.6" fill="#3a3c41" />
<polygon points="908.5,259.5 917.7,261.7 917.7,266.7 908.5,264.4" fill="#4e5157" />
<polygon points="898.5,244.8 902.3,245.9 902.3,250.0 898.5,248.9" fill="#50535a" />
<polygon points="886.1,241.5 890.0,242.3 890.0,245.9 886.1,245.0" fill="#50535a" />
<line x1="887.2" y1="257.2" x2="887.2" y2="266.2" stroke="#7d828a" stroke-width="1.8" />
<line x1="898.5" y1="260.4" x2="898.5" y2="267.8" stroke="#b8954a" stroke-width="2.0" />
<line x1="905.2" y1="261.7" x2="905.2" y2="269.1" stroke="#b8954a" stroke-width="2.0" />
<polygon points="920.6,246.2 1055.2,293.0 1064.9,281.3 930.3,234.5" fill="#45423f" />
<polygon points="927.6,237.8 1062.2,284.6 1064.9,281.3 930.3,234.5" fill="#b9bdc5" />
<polygon points="920.6,246.2 1055.2,293.0 1056.6,291.4 922.0,244.6" fill="#8c9099" />
<polygon points="939.1,240.6 945.9,242.9 947.3,241.2 940.6,238.8" fill="#d8dbe0" />
<polygon points="955.3,246.2 962.0,248.5 963.5,246.8 956.7,244.4" fill="#d8dbe0" />
<polygon points="972.8,252.3 979.5,254.6 981.0,252.9 974.2,250.5" fill="#d8dbe0" />
<polygon points="1006.4,264.0 1013.2,266.3 1014.6,264.6 1007.9,262.2" fill="#d8dbe0" />
<polygon points="1022.6,269.6 1029.3,271.9 1030.8,270.2 1024.0,267.8" fill="#d8dbe0" />
<polygon points="1040.1,275.7 1046.8,278.0 1048.3,276.3 1041.5,273.9" fill="#d8dbe0" />
<polygon points="985.2,266.6 993.3,269.4 998.9,262.6 990.8,259.8" fill="#505156" />
<polygon points="1055.2,293.0 1059.2,294.4 1068.9,282.7 1064.9,281.3" fill="#3b3a3c" />
<polygon points="1055.2,293.0 1059.2,294.4 1059.2,311.7 1055.2,310.3" fill="#585b62" />
<polygon points="1059.2,294.4 1068.9,282.7 1068.9,299.7 1059.2,311.7" fill="#474a50" />
<polygon points="1062.1,298.5 1066.0,293.9 1066.0,299.0 1062.1,303.6" fill="#36383d" />
<polygon points="920.6,246.2 1055.2,293.0 1055.2,310.0 920.6,263.2" fill="#b6bbc4" />
<polygon points="920.6,246.2 1055.2,293.0 1055.2,294.4 920.6,247.6" fill="#5f636b" />
<polygon points="920.6,246.2 922.2,246.8 922.2,263.8 920.6,263.2" fill="#8b9098" />
<polygon points="920.6,261.5 1055.2,308.3 1055.2,310.0 920.6,263.2" fill="#9499a2" />
<line x1="923.6" y1="255.7" x2="981.1" y2="275.1" stroke="#60656d" stroke-width="1.7" />
<line x1="923.6" y1="260.2" x2="981.1" y2="279.6" stroke="#60656d" stroke-width="1.7" />
<line x1="993.6" y1="281.2" x2="1051.1" y2="301.5" stroke="#60656d" stroke-width="1.7" />
<line x1="993.6" y1="285.7" x2="1051.1" y2="305.1" stroke="#60656d" stroke-width="1.7" />
<polygon points="924.5,250.5 929.9,252.4 929.9,255.3 924.5,253.4" fill="#3f4248" />
<polygon points="942.5,256.7 947.9,258.6 947.9,261.5 942.5,259.6" fill="#3f4248" />
<polygon points="955.0,261.4 960.4,263.3 960.4,266.2 955.0,264.3" fill="#3f4248" />
<polygon points="1009.7,281.2 1017.9,284.1 1017.9,287.0 1009.7,284.1" fill="#3f4248" />
<polygon points="1025.2,286.9 1031.3,289.1 1031.3,292.0 1025.2,289.8" fill="#3f4248" />
<polygon points="986.6,276.5 988.2,277.0 988.2,291.3 986.6,290.8" fill="#9ea3ac" />
<polygon points="983.2,284.6 990.5,287.2 990.5,291.3 983.2,288.7" fill="#45484e" />
<line x1="921.9" y1="262.5" x2="921.9" y2="268.6" stroke="#7d828a" stroke-width="1.8" />
<line x1="982.0" y1="288.3" x2="982.0" y2="291.4" stroke="#7d828a" stroke-width="1.8" />
<line x1="992.8" y1="292.2" x2="992.8" y2="295.1" stroke="#7d828a" stroke-width="1.8" />
<line x1="1055.6" y1="308.5" x2="1055.6" y2="314.8" stroke="#7d828a" stroke-width="1.8" /></g>
<polygon points="894.4,369.6 919.4,378.9 919.4,392.8 912.0,392.8 911.1,400.2 904.6,399.3 903.7,389.1 894.4,385.4" fill="#a3a8b1" stroke="#6a6f78" stroke-width="0.7" stroke-linejoin="round" />
<polygon points="884.0,410.9 896.2,394.5 927.9,404.6 915.7,421.0" fill="#b9bec6" stroke="#565b64" stroke-width="0.7" stroke-linejoin="round" />
<polygon points="884.0,410.9 915.7,421.0 915.2,429.4 884.5,419.9" fill="#a9aeb8" stroke="#565b64" stroke-width="0.7" stroke-linejoin="round" />
<polygon points="915.7,421.0 927.9,404.6 928.4,411.7 915.2,429.4" fill="#9a9fa9" stroke="#565b64" stroke-width="0.7" stroke-linejoin="round" />
<ellipse cx="910" cy="400.5" rx="12" ry="2.6" transform="rotate(18 910 400.5)" fill="#b4b9c2" stroke="#4f545c" stroke-width="1.2"/>
<line x1="902.8" y1="398.2" x2="917.2" y2="402.8" stroke="#555a62" stroke-width="1.6" stroke-dasharray="2 1"/>
<polygon points="880.3,431.6 900.4,437.4 900.4,439.9 880.3,434.1" fill="#80858e" />
<polygon points="880.3,431.6 887.7,421.5 907.8,426.8 900.4,437.4" fill="#b9bec6" stroke="#565b64" stroke-width="0.7" stroke-linejoin="round" />
<polygon points="917.7,426.8 928.3,409.1 989.7,429.6 978.4,446.5" fill="#b9bec6" stroke="#565b64" stroke-width="0.7" stroke-linejoin="round" />
<polygon points="917.7,426.8 978.4,446.5 977.0,460.6 918.4,440.2" fill="#a9aeb8" stroke="#565b64" stroke-width="0.7" stroke-linejoin="round" />
<polygon points="978.4,446.5 989.7,429.6 990.2,441.6 977.0,460.6" fill="#9a9fa9" stroke="#565b64" stroke-width="0.7" stroke-linejoin="round" />
<ellipse cx="952" cy="427.5" rx="19" ry="4.2" transform="rotate(18 952 427.5)" fill="#b4b9c2" stroke="#4f545c" stroke-width="1.2"/>
<line x1="940.6" y1="423.9" x2="963.4" y2="431.1" stroke="#555a62" stroke-width="1.6" stroke-dasharray="2 1"/>
<polygon points="946.0,391.5 971.3,398.0 971.3,413.4 964.3,414.0 962.9,421.1 954.4,419.0 953.7,409.8 946.0,406.3" fill="#a3a8b1" stroke="#6a6f78" stroke-width="0.7" stroke-linejoin="round" />
<polygon points="913.5,448.0 964.3,464.2 964.3,466.7 913.5,450.5" fill="#80858e" />
<polygon points="913.5,448.0 922.0,436.6 970.0,451.5 964.3,464.2" fill="#b9bec6" stroke="#565b64" stroke-width="0.7" stroke-linejoin="round" />
<polygon points="982.9,449.5 992.2,432.9 1055.7,453.5 1045.1,470.0" fill="#b9bec6" stroke="#565b64" stroke-width="0.7" stroke-linejoin="round" />
<polygon points="982.9,449.5 1045.1,470.0 1044.5,487.2 982.3,462.0" fill="#a9aeb8" stroke="#565b64" stroke-width="0.7" stroke-linejoin="round" />
<polygon points="1045.1,470.0 1055.7,453.5 1056.2,468.1 1044.5,487.2" fill="#9a9fa9" stroke="#565b64" stroke-width="0.7" stroke-linejoin="round" />
<ellipse cx="1018.5" cy="451.5" rx="19" ry="4.2" transform="rotate(18 1018.5 451.5)" fill="#b4b9c2" stroke="#4f545c" stroke-width="1.2"/>
<line x1="1007.1" y1="447.9" x2="1029.9" y2="455.1" stroke="#555a62" stroke-width="1.6" stroke-dasharray="2 1"/>
<polygon points="1012.7,415.0 1037.8,422.6 1037.8,436.8 1031.1,437.6 1030.3,444.3 1023.6,443.5 1022.7,434.3 1012.7,430.1" fill="#a3a8b1" stroke="#6a6f78" stroke-width="0.7" stroke-linejoin="round" />
<g><polygon points="887.1,456.0 892.3,440.3 912.6,446.2 923.0,454.9 921.7,463.5" fill="#7e838b" />
<polygon points="889.9,455.4 891.9,443.6 909.4,448.4 914.0,459.7" fill="#36373c" />
<polygon points="892.3,440.3 912.6,446.2 913.4,447.9 893.1,441.9" fill="#a9aeb6" />
<polygon points="914.0,459.7 909.4,448.4 912.6,446.2 923.0,454.9 921.7,463.5" fill="#4a4c52" />
<line x1="898.6" y1="455.3" x2="895.6" y2="448.2" stroke="#b9a655" stroke-width="1.3" />
<line x1="901.2" y1="456.0" x2="898.3" y2="448.8" stroke="#b9a655" stroke-width="1.3" />
<line x1="903.8" y1="456.6" x2="900.9" y2="449.5" stroke="#b9a655" stroke-width="1.3" />
<line x1="906.4" y1="457.2" x2="903.5" y2="450.1" stroke="#b9a655" stroke-width="1.3" />
<polygon points="887.1,456.4 908.5,460.8 908.5,479.4 887.1,475.0" fill="#b5bac3" />
<polygon points="908.5,460.8 921.7,463.5 921.7,481.8 908.5,479.4" fill="#aaafb8" />
<polygon points="887.1,455.3 921.7,462.8 921.7,464.6 887.1,457.4" fill="#3a3c41" />
<polygon points="910.0,476.7 918.7,478.7 918.7,483.0 910.0,481.0" fill="#4e5157" />
<polygon points="900.5,463.8 904.2,464.8 904.2,468.4 900.5,467.4" fill="#50535a" />
<polygon points="888.9,460.8 892.5,461.6 892.5,464.6 888.9,463.9" fill="#50535a" />
<line x1="889.8" y1="474.5" x2="889.8" y2="482.4" stroke="#7d828a" stroke-width="1.8" />
<line x1="900.5" y1="477.4" x2="900.5" y2="483.9" stroke="#b8954a" stroke-width="2.0" />
<line x1="906.9" y1="478.6" x2="906.9" y2="485.0" stroke="#b8954a" stroke-width="2.0" />
<polygon points="921.5,466.2 1048.9,508.2 1053.3,500.2 925.9,458.2" fill="#45423f" />
<polygon points="924.7,460.4 1052.1,502.4 1053.3,500.2 925.9,458.2" fill="#b9bdc5" />
<polygon points="921.5,466.2 1048.9,508.2 1049.5,507.1 922.1,465.1" fill="#8c9099" />
<polygon points="935.2,463.2 941.6,465.3 942.2,464.1 935.9,462.0" fill="#d8dbe0" />
<polygon points="950.5,468.2 956.9,470.3 957.5,469.1 951.2,467.0" fill="#d8dbe0" />
<polygon points="967.1,473.7 973.4,475.8 974.1,474.6 967.7,472.5" fill="#d8dbe0" />
<polygon points="998.9,484.2 1005.3,486.3 1005.9,485.1 999.6,483.0" fill="#d8dbe0" />
<polygon points="1014.2,489.2 1020.6,491.3 1021.2,490.1 1014.9,488.0" fill="#d8dbe0" />
<polygon points="1030.8,494.7 1037.1,496.8 1037.8,495.6 1031.4,493.5" fill="#d8dbe0" />
<polygon points="982.0,484.8 989.6,487.3 992.2,482.7 984.5,480.2" fill="#505156" />
<polygon points="1048.9,508.2 1052.7,509.5 1057.1,501.5 1053.3,500.2" fill="#3b3a3c" />
<polygon points="1048.9,508.2 1052.7,509.5 1052.7,526.1 1048.9,524.8" fill="#585b62" />
<polygon points="1052.7,509.5 1057.1,501.5 1057.1,517.8 1052.7,526.1" fill="#474a50" />
<polygon points="1054.0,514.4 1055.8,511.2 1055.8,516.1 1054.0,519.3" fill="#36383d" />
<polygon points="921.5,466.2 1048.9,508.2 1048.9,524.5 921.5,482.5" fill="#b6bbc4" />
<polygon points="921.5,466.2 1048.9,508.2 1048.9,509.5 921.5,467.5" fill="#5f636b" />
<polygon points="921.5,466.2 923.0,466.7 923.0,483.0 921.5,482.5" fill="#8b9098" />
<polygon points="921.5,480.9 1048.9,522.9 1048.9,524.5 921.5,482.5" fill="#9499a2" />
<line x1="924.3" y1="475.3" x2="978.7" y2="492.7" stroke="#60656d" stroke-width="1.7" />
<line x1="924.3" y1="479.5" x2="978.7" y2="496.9" stroke="#60656d" stroke-width="1.7" />
<line x1="990.6" y1="498.2" x2="1045.0" y2="516.4" stroke="#60656d" stroke-width="1.7" />
<line x1="990.6" y1="502.5" x2="1045.0" y2="519.9" stroke="#60656d" stroke-width="1.7" />
<polygon points="925.2,470.3 930.3,472.0 930.3,474.8 925.2,473.1" fill="#3f4248" />
<polygon points="942.2,475.8 947.3,477.5 947.3,480.3 942.2,478.6" fill="#3f4248" />
<polygon points="954.1,480.1 959.2,481.7 959.2,484.5 954.1,482.9" fill="#3f4248" />
<polygon points="1005.9,497.9 1013.6,500.4 1013.6,503.2 1005.9,500.7" fill="#3f4248" />
<polygon points="1020.5,503.0 1026.3,505.0 1026.3,507.8 1020.5,505.8" fill="#3f4248" />
<polygon points="984.0,493.8 985.5,494.3 985.5,508.0 984.0,507.5" fill="#9ea3ac" />
<polygon points="980.7,501.7 987.6,504.0 987.6,507.9 980.7,505.6" fill="#45484e" />
<line x1="922.7" y1="481.8" x2="922.7" y2="487.6" stroke="#7d828a" stroke-width="1.8" />
<line x1="979.6" y1="505.2" x2="979.6" y2="508.3" stroke="#7d828a" stroke-width="1.8" />
<line x1="989.8" y1="508.8" x2="989.8" y2="511.5" stroke="#7d828a" stroke-width="1.8" />
<line x1="1049.3" y1="523.0" x2="1049.3" y2="529.1" stroke="#7d828a" stroke-width="1.8" /></g>
<polygon points="980.3,468.7 1030.6,487.9 1030.6,490.4 980.3,471.2" fill="#80858e" />
<polygon points="980.3,468.7 986.9,460.7 1037.2,477.3 1030.6,487.9" fill="#b9bec6" stroke="#565b64" stroke-width="0.7" stroke-linejoin="round" />
<text transform="translate(121 197) rotate(12) " font-size="21.5" fill="#1a1a1a" stroke="#1a1a1a" stroke-width="0.3" >AIC</text>
<text transform="translate(45.6 295.4) rotate(16) " font-size="17" fill="#1a1a1a" stroke="#1a1a1a" stroke-width="0.3" >Combo connector</text>
<text transform="translate(311.7 259.2) rotate(19.5) " font-size="17" fill="#1a1a1a" stroke="#1a1a1a" stroke-width="0.3" >Combo connector</text>
<text transform="translate(574.4 279.6) rotate(17) " font-size="17" fill="#1a1a1a" stroke="#1a1a1a" stroke-width="0.3" >Combo connector</text>
<text transform="translate(316.3 513.4) rotate(9.3) " font-size="17" fill="#1a1a1a" stroke="#1a1a1a" stroke-width="0.3" >Combo connector</text>
<text transform="translate(562.4 509.1) rotate(16.4) " font-size="17" fill="#1a1a1a" stroke="#1a1a1a" stroke-width="0.3" >Combo connector</text>
<text transform="translate(900.1 283.4) rotate(20.3) " font-size="17" fill="#1a1a1a" stroke="#1a1a1a" stroke-width="0.3" >Combo connector</text>
<text transform="translate(896.1 492.8) rotate(20.3) " font-size="17" fill="#1a1a1a" stroke="#1a1a1a" stroke-width="0.3" >Combo connector</text>
<text transform="translate(374.1 144.8) rotate(18) " font-size="16.5" fill="#1a1a1a" stroke="#1a1a1a" stroke-width="0.3" >Combo <tspan fill="#1f78c8" stroke="#1f78c8" stroke-width="0.2" font-weight="bold">RA</tspan> cable</text>
<text transform="translate(601.8 144.6) rotate(17.5) " font-size="17" fill="#1a1a1a" stroke="#1a1a1a" stroke-width="0.3" >Combo <tspan fill="#1f78c8" stroke="#1f78c8" stroke-width="0.2" font-weight="bold">VT</tspan> cable</text>
<text transform="translate(340.8 362.9) rotate(11) " font-size="17" fill="#1a1a1a" stroke="#1a1a1a" stroke-width="0.3" >Combo <tspan fill="#1f78c8" stroke="#1f78c8" stroke-width="0.2" font-weight="bold">RRA</tspan> <tspan dx="1">cable</tspan></text>
<text transform="translate(591.7 384.1) rotate(16.3) " font-size="17" fill="#1a1a1a" stroke="#1a1a1a" stroke-width="0.3" >Combo <tspan fill="#1f78c8" stroke="#1f78c8" stroke-width="0.2" font-weight="bold">RVT</tspan> cable</text>
<text transform="translate(906 140.7) rotate(19.2) " font-size="16.8" fill="#1a1a1a" stroke="#1a1a1a" stroke-width="0.3" >MCIO STD <tspan fill="#1f78c8" stroke="#1f78c8" stroke-width="0.2" font-weight="bold">RA/VT</tspan> 8X cable</text>
<text transform="translate(955 385.5) rotate(21) " font-size="16.8" fill="#1a1a1a" stroke="#1a1a1a" stroke-width="0.3" >8X <tspan fill="#1f78c8" stroke="#1f78c8" stroke-width="0.2" font-weight="bold">RRA</tspan> <tspan dx="8">cable</tspan></text>
<text x="809" y="178.4" font-size="16.5" fill="#1a1a1a" stroke="#1a1a1a" stroke-width="0.3">PWR <tspan fill="#1f78c8" stroke="#1f78c8" stroke-width="0.2" font-weight="bold">RA</tspan></text>
<text x="813.5" y="203.1" font-size="16.5" fill="#1a1a1a" stroke="#1a1a1a" stroke-width="0.3">cable</text>
<text x="806" y="397" font-size="16.5" fill="#1a1a1a" stroke="#1a1a1a" stroke-width="0.3">PWR <tspan fill="#1f78c8" stroke="#1f78c8" stroke-width="0.2" font-weight="bold">RRA</tspan></text>
<text x="805.5" y="421.9" font-size="16.5" fill="#1a1a1a" stroke="#1a1a1a" stroke-width="0.3">cable</text>
</svg>
</body></html>
